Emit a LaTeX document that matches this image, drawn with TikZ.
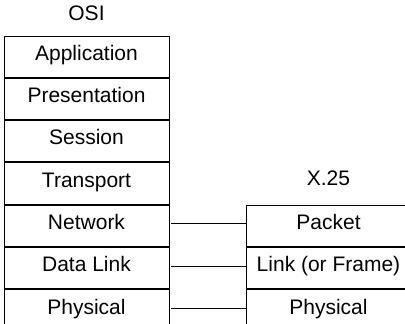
\documentclass[tikz,border=0pt]{standalone}
\usepackage{fontspec}
\setmainfont{Liberation Sans}
\usetikzlibrary{positioning}
\begin{document}
\begin{tikzpicture}[x=1pt,y=1pt,
  every node/.style={font=\fontsize{21}{25}\selectfont, text height=0.72em, text depth=0pt, inner sep=0pt},
  layer/.style={draw, line width=1pt, minimum width=165pt, minimum height=41.33pt, node distance=0pt},
  link/.style={line width=1pt}]
\useasboundingbox (0,0) rectangle (405,324);

% OSI reference model stack
\node (osi) at (86.5,307.3) {OSI};
\node[layer] (app) at (86.5,267.33) {Application};
\node[layer, below=of app] (pres) {Presentation};
\node[layer, below=of pres] (sess) {Session};
\node[layer, below=of sess] (trans) {Transport};
\node[layer, below=of trans] (net) {Network};
\node[layer, below=of net] (dl) {Data Link};
\node[layer, below=of dl] (phy) {Physical};

% X.25 stack, aligned with the lower three OSI layers
\coordinate (xcol) at (328.5,0);
\node (x25) at (328.5,142) {X.25};
\node[layer] (pkt) at (xcol |- net.center) {Packet};
\node[layer, below=of pkt] (lnk) {Link (or Frame)};
\node[layer, below=of lnk] (xphy) {Physical};

% layer correspondences
\draw[link] ([xshift=1.5pt,yshift=2pt]net.east) -- ([yshift=2pt]pkt.west);
\draw[link] ([xshift=1.5pt,yshift=2pt]dl.east) -- ([yshift=2pt]lnk.west);
\draw[link] ([xshift=1.5pt,yshift=2pt]phy.east) -- ([yshift=2pt]xphy.west);
\end{tikzpicture}
\end{document}
